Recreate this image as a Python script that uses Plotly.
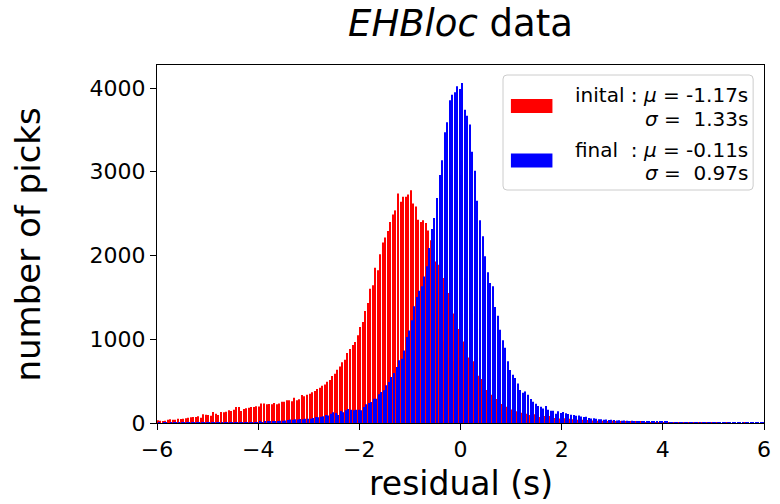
import numpy as np
import plotly.graph_objects as go

# Histogram of pick residuals, 0.05 s bins from -6 s to 6 s
bin_start = -6.0
bin_width = 0.05

initial_counts = [
    32, 28, 24, 28, 40, 44, 40, 40, 52, 48,
    52, 56, 64, 68, 72, 72, 80, 64, 103, 99,
    95, 88, 131, 111, 95, 131, 127, 135, 151, 143,
    159, 191, 191, 143, 167, 175, 183, 191, 191, 199,
    197, 232, 232, 223, 228, 223, 239, 223, 232, 255,
    255, 271, 271, 259, 302, 271, 283, 334, 318, 338,
    350, 366, 382, 406, 422, 446, 461, 493, 513, 560,
    589, 636, 676, 724, 756, 835, 883, 930, 967, 1047,
    1146, 1206, 1337, 1433, 1604, 1644, 1855, 1823, 2014, 2156,
    2216, 2292, 2399, 2491, 2539, 2741, 2642, 2702, 2702, 2730,
    2778, 2622, 2586, 2428, 2399, 2420, 2388, 2300, 2181, 2010,
    1930, 1890, 1771, 1731, 1624, 1552, 1413, 1309, 1221, 1122,
    1054, 974, 911, 783, 764, 736, 624, 565, 525, 485,
    394, 418, 338, 338, 286, 266, 227, 227, 195, 191,
    162, 155, 139, 147, 123, 147, 111, 95, 95, 103,
    95, 72, 72, 83, 72, 83, 60, 60, 58, 55,
    52, 56, 48, 50, 44, 48, 40, 42, 38, 36,
    36, 34, 30, 32, 28, 28, 26, 30, 24, 26,
    28, 22, 24, 20, 18, 20, 16, 18, 14, 14,
    12, 14, 10, 12, 10, 8, 10, 8, 8, 6,
    8, 6, 5, 6, 4, 5, 4, 4, 3, 4,
    3, 3, 2, 3, 2, 2, 2, 1, 2, 1,
    1, 1, 1, 0, 1, 1, 0, 0, 1, 0,
    0, 0, 1, 0, 0, 0, 0, 0, 0, 0,
]

final_counts = [
    1, 0, 1, 1, 0, 1, 1, 2, 1, 1,
    2, 1, 2, 2, 1, 2, 3, 2, 2, 3,
    3, 2, 4, 3, 4, 4, 5, 4, 5, 6,
    5, 6, 7, 6, 8, 7, 8, 9, 8, 12,
    14, 12, 16, 15, 18, 20, 22, 20, 26, 28,
    30, 36, 43, 40, 45, 43, 47, 44, 50, 52,
    50, 60, 73, 70, 76, 80, 95, 90, 111, 127,
    119, 95, 143, 127, 151, 167, 159, 151, 159, 159,
    151, 191, 223, 239, 251, 291, 290, 342, 370, 390,
    450, 489, 549, 597, 668, 748, 768, 867, 1027, 1106,
    1226, 1393, 1504, 1580, 1632, 1750, 1871, 2090, 2317, 2448,
    2687, 2961, 3137, 3471, 3590, 3853, 3921, 3949, 4021, 3989,
    4060, 3742, 3670, 3563, 3240, 3013, 2655, 2420, 2229, 1990,
    1800, 1672, 1632, 1385, 1282, 1115, 987, 900, 736, 633,
    577, 537, 473, 394, 362, 377, 338, 286, 254, 230,
    203, 195, 174, 203, 159, 147, 147, 111, 139, 120,
    130, 115, 108, 100, 95, 87, 90, 78, 72, 75,
    60, 55, 58, 50, 46, 44, 40, 42, 36, 38,
    35, 30, 32, 28, 30, 26, 24, 26, 22, 20,
    22, 18, 20, 17, 18, 16, 15, 17, 14, 16,
    13, 14, 12, 12, 10, 12, 11, 9, 10, 8,
    10, 9, 8, 8, 7, 8, 6, 7, 6, 7,
    5, 6, 5, 5, 4, 5, 4, 3, 4, 3,
    3, 3, 2, 3, 2, 2, 1, 2, 1, 1,
]

x_ticks = [-6, -4, -2, 0, 2, 4, 6]
x_tick_labels = ["\u22126", "\u22124", "\u22122", "0", "2", "4", "6"]
y_ticks = [0, 1000, 2000, 3000, 4000]
y_tick_labels = ["0", "1000", "2000", "3000", "4000"]

legend_entries = [
    ("red", "inital :\u00a0<i>\u03bc</i> = -1.17s", "<i>\u03c3</i> =\u00a0 1.33s"),
    ("blue", "final\u00a0 :\u00a0<i>\u03bc</i> = -0.11s", "<i>\u03c3</i> =\u00a0 0.97s"),
]

centers = bin_start + bin_width * (np.arange(len(initial_counts)) + 0.5)

FONT = "DejaVu Sans"
W, H = 780, 504
L, R, T, B = 157, 9, 65, 81
PW, PH = W - L - R, H - T - B


def px(x):
    return (x - L) / PW


def py(y):
    return (H - B - y) / PH


fig = go.Figure()
fig.add_trace(go.Bar(x=centers, y=initial_counts, marker=dict(color="red", line=dict(width=0)),
                     showlegend=False))
fig.add_trace(go.Bar(x=centers, y=final_counts, marker=dict(color="blue", line=dict(width=0)),
                     showlegend=False))

# legend frame with rounded corners
x0, x1, y0, y1 = px(507), px(760), py(190), py(75)
rx, ry = 4 / PW, 4 / PH
path = (f"M {x0+rx},{y0} L {x1-rx},{y0} Q {x1},{y0} {x1},{y0+ry} "
        f"L {x1},{y1-ry} Q {x1},{y1} {x1-rx},{y1} L {x0+rx},{y1} "
        f"Q {x0},{y1} {x0},{y1-ry} L {x0},{y0+ry} Q {x0},{y0} {x0+rx},{y0} Z")
shapes = [dict(type="path", xref="paper", yref="paper", path=path,
               line=dict(color="#cccccc", width=1), fillcolor="rgba(255,255,255,0.8)")]

annotations = []
for i, (color, line1, line2) in enumerate(legend_entries):
    top = 99 + i * 54.5
    shapes.append(dict(type="rect", xref="paper", yref="paper",
                       x0=px(515), x1=px(557), y0=py(top + 14), y1=py(top),
                       line=dict(width=0), fillcolor=color))
    for j, txt in enumerate((line1, line2)):
        annotations.append(dict(xref="paper", yref="paper", x=px(757), y=py(95 + i * 54.5 + j * 23.5),
                                xanchor="right", yanchor="middle", showarrow=False, text=txt,
                                font=dict(family=FONT, size=20, color="black")))

annotations.append(dict(xref="paper", yref="paper", x=0.5, y=py(23), xanchor="center", yanchor="middle",
                        showarrow=False, text="<i>EHBloc</i> data",
                        font=dict(family=FONT, size=37, color="black")))
annotations.append(dict(xref="paper", yref="paper", x=0.5, y=py(483), xanchor="center", yanchor="middle",
                        showarrow=False, text="residual (s)", borderpad=0,
                        font=dict(family=FONT, size=33, color="black")))
annotations.append(dict(xref="paper", yref="paper", x=px(27), y=0.5, xanchor="center", yanchor="middle",
                        showarrow=False, text="number of picks", textangle=-90,
                        font=dict(family=FONT, size=34, color="black")))

axis_common = dict(showline=True, linecolor="black", linewidth=1.3, mirror=True, showgrid=False,
                   zeroline=False, ticks="outside", ticklen=6, tickwidth=1.3, tickcolor="black",
                   tickfont=dict(family=FONT, size=22, color="black"))

fig.update_layout(
    width=W, height=H,
    margin=dict(l=L, r=R, t=T, b=B),
    paper_bgcolor="white", plot_bgcolor="white",
    barmode="group", bargap=0.2, bargroupgap=0,
    xaxis=dict(range=[-6, 6], tickmode="array", tickvals=x_ticks, ticktext=x_tick_labels, **axis_common),
    yaxis=dict(range=[0, 4275], tickmode="array", tickvals=y_ticks, ticktext=y_tick_labels, **axis_common),
    shapes=shapes,
    annotations=annotations,
    font=dict(family=FONT),
)

fig.write_html("out.html")
